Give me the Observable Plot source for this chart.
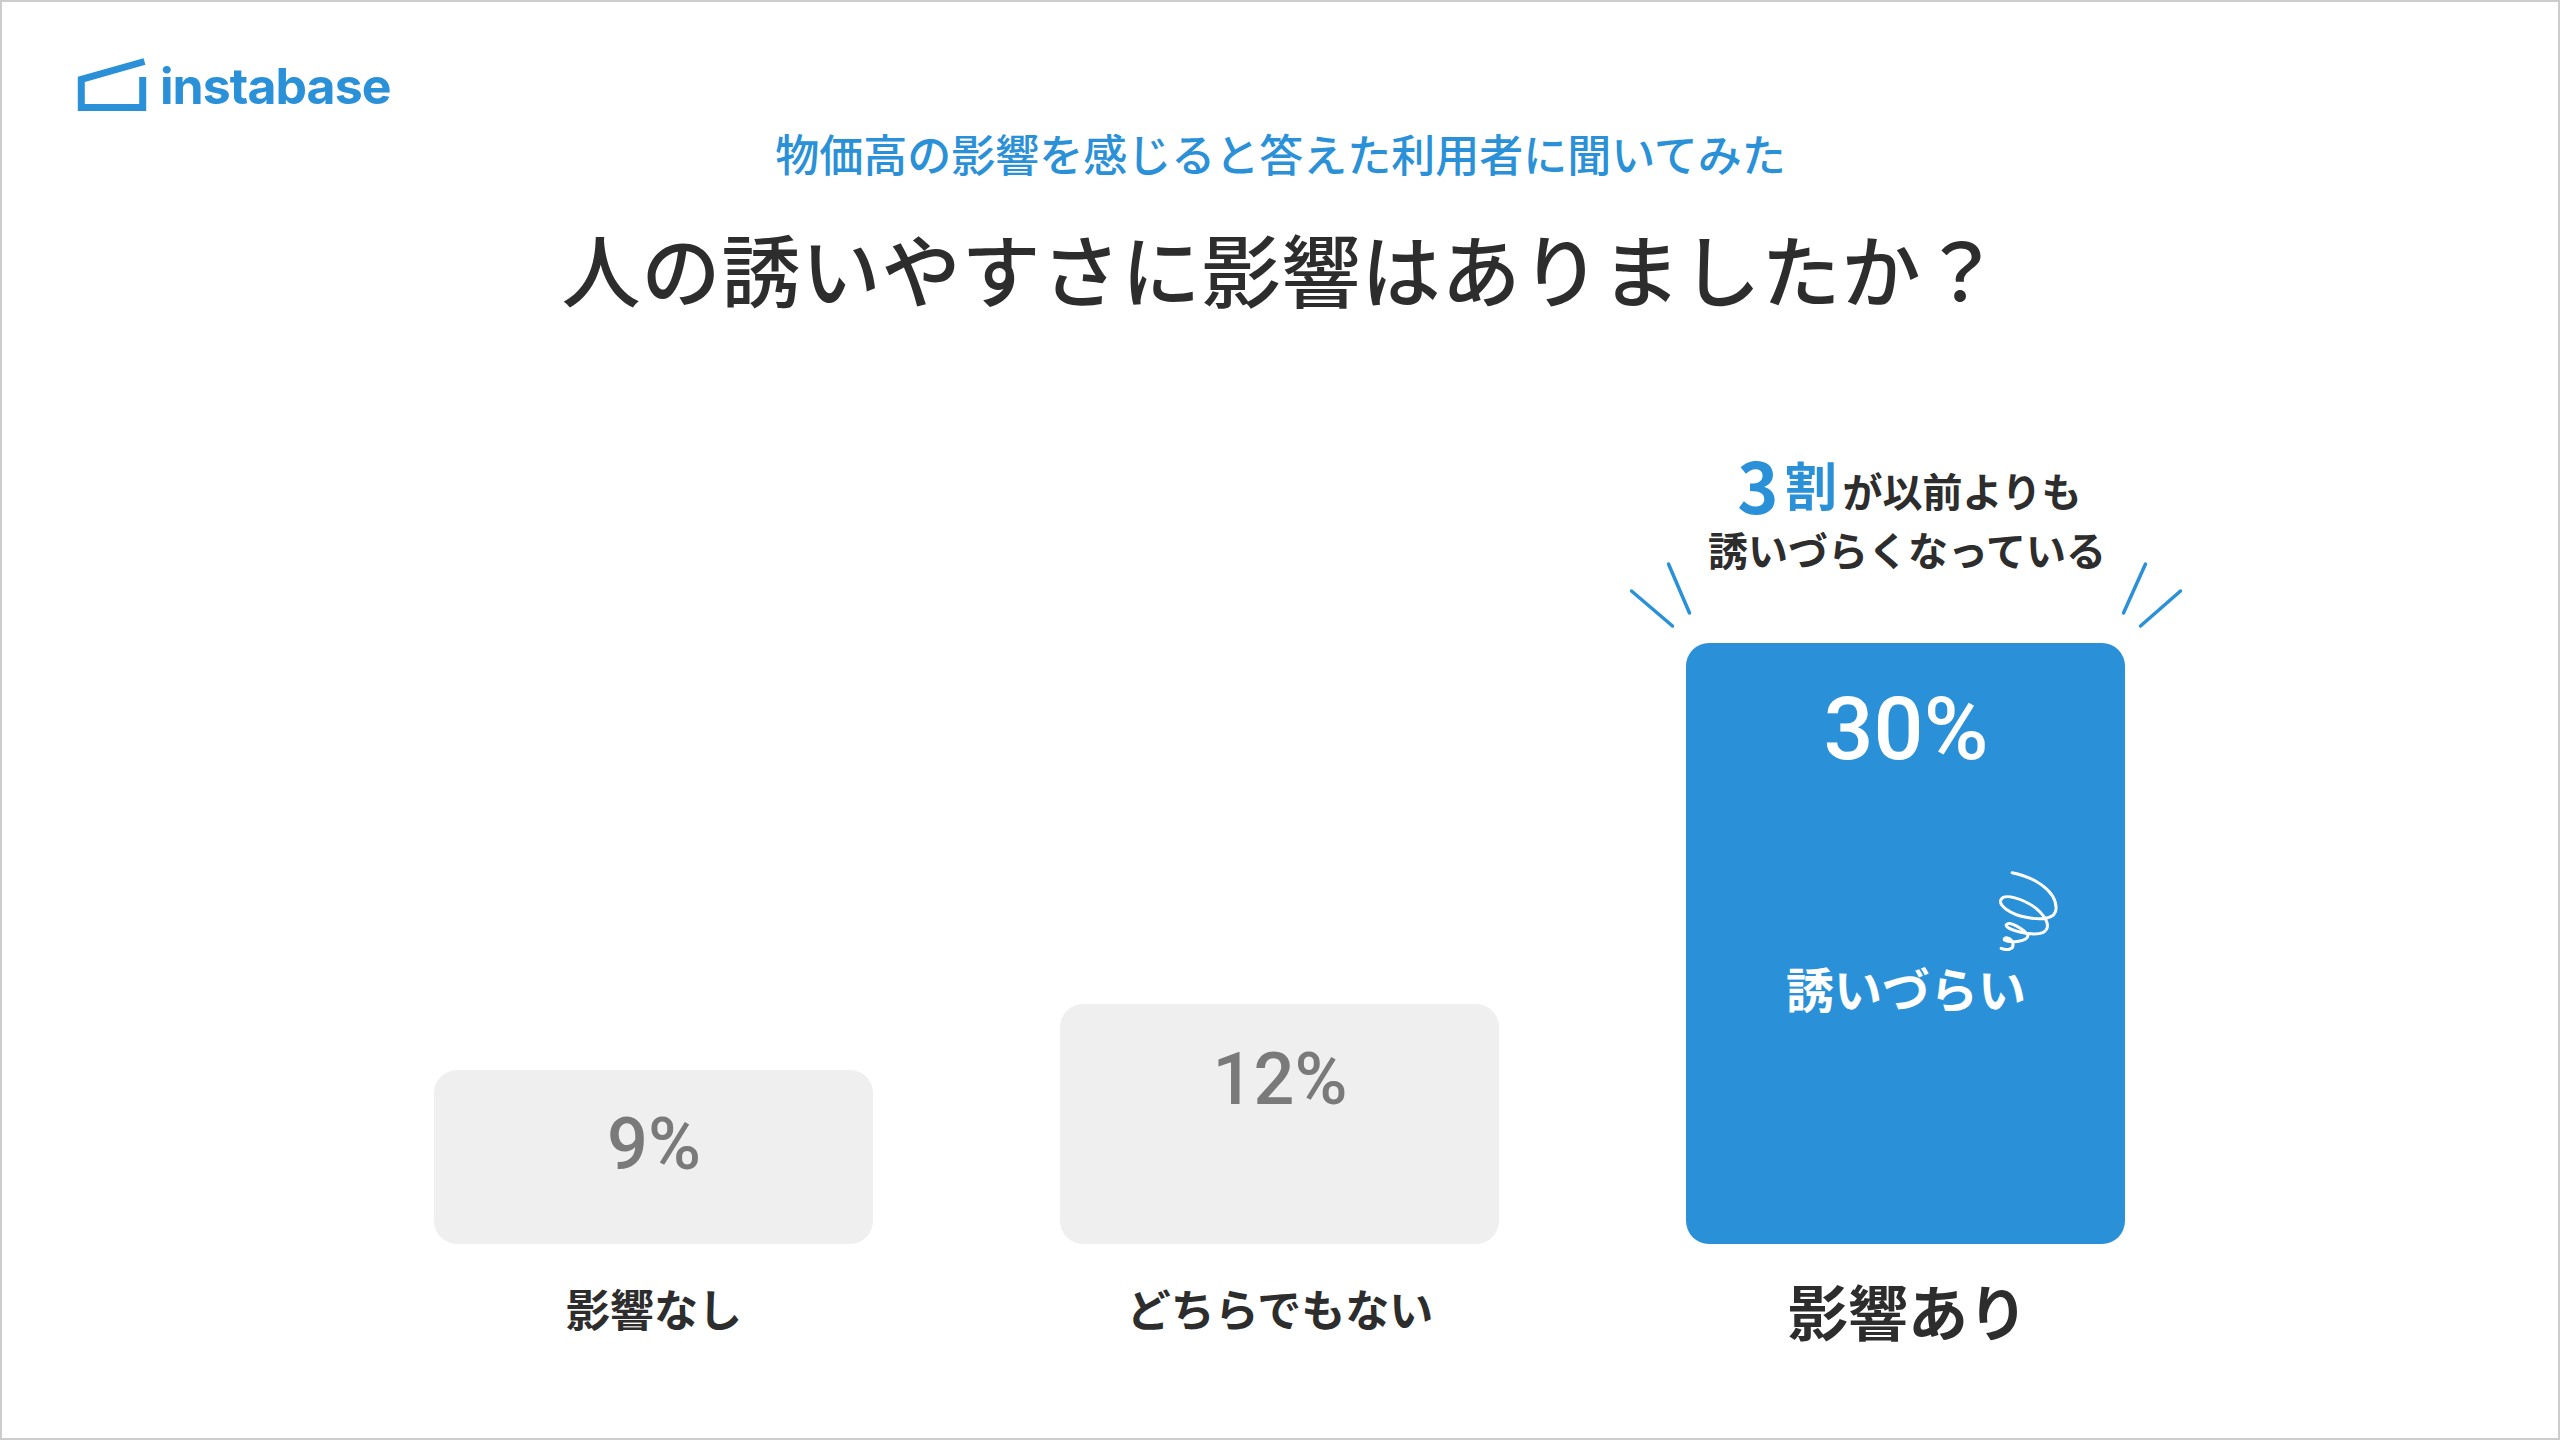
<!DOCTYPE html>
<html lang="ja">
<head>
<meta charset="utf-8">
<script src="https://cdn.jsdelivr.net/npm/d3@7"></script>
<script src="https://cdn.jsdelivr.net/npm/@observablehq/plot@0.6"></script>
<style>
  html, body { margin: 0; padding: 0; background: #fff; }
  #page { position: relative; width: 2560px; height: 1440px; overflow: hidden; background: #fff;
          font-family: "Noto Sans CJK JP", sans-serif; }
  #page svg { display: block; }
  #border { position: absolute; inset: 0; border: 2px solid #cccccc; box-sizing: border-box; pointer-events: none; }
  #header { position: relative; height: 340px; }
  #logo { position: absolute; left: 0; top: 0; }
  #subtitle { position: absolute; left: 0; width: 100%; top: 120px; text-align: center; font-size: 44px; line-height: 66px;
              font-weight: 500; color: #2a91d8; margin: 0; padding-left: 1px; box-sizing: border-box; }
  #title { position: absolute; left: 0; width: 100%; top: 208px; text-align: center; font-size: 79px; line-height: 120px;
           font-weight: 500; color: #2d2d2d; margin: 0; letter-spacing: 1px; padding-left: 3px; box-sizing: border-box; }
</style>
</head>
<body>
<div id="page">
  <div id="header">
    <svg id="logo" width="420" height="130">
      <path d="M144.5,61.5 L81.3,79.5 V107.5 H142.7 V77" fill="none" stroke="#2a91d8" stroke-width="7"/>
      <text x="160" y="104" font-family="Inter" font-weight="700" font-size="50" letter-spacing="-0.95" fill="#2a91d8">instabase</text>
    </svg>
    <p id="subtitle">物価高の影響を感じると答えた利用者に聞いてみた</p>
    <h1 id="title">人の誘いやすさに影響はありましたか？</h1>
  </div>
  <div id="chart"></div>
  <div id="border"></div>
</div>
<script>
const categories = ["影響なし", "どちらでもない", "影響あり"];
const percents = [9, 12, 30];
const percentLabels = ["9%", "12%", "30%"];
const highlighted = "影響あり";
const calloutFigure = "3";
const calloutUnit = "割";
const calloutRest = "が以前よりも";
const calloutSecondLine = "誘いづらくなっている";
const barNote = "誘いづらい";

const blue = "#2a91d8", grey = "#efefef", ink = "#2d2d2d", mutedInk = "#7a7a7a";
const font = '"Noto Sans CJK JP", sans-serif';
const table = categories.map((category, i) => ({category, percent: percents[i], label: percentLabels[i]}));
const isTop = d => d.category === highlighted;
const topRow = table.filter(isTop);
const otherRows = table.filter(d => !isTop(d));

// The reference draws its bars slightly off a strict proportion (the 9% bar is a little short).
const drawnHeight = d3.scaleLinear([0, 9, 12, 30], [0, 8.69, 11.98, 30]);

// Short decorative pieces, placed relative to the highlighted bar.
function decorations(index, {x, y}) {
  const g = d3.create("svg:g").attr("fill", "none").attr("stroke-linecap", "round");
  const cx = x(highlighted) + x.bandwidth() / 2;
  const topY = y(30);
  g.append("g").attr("transform", `translate(${cx},${topY})`)
    .attr("stroke", blue).attr("stroke-width", 3.5)
    .selectAll("path")
    .data(["M-274,-52L-233,-17", "M-237,-79L-216,-30", "M240,-79L218,-30", "M275,-52L235,-17"])
    .join("path").attr("d", d => d);
  g.append("path")
    .attr("transform", `translate(${cx - 166},${topY + 197}) scale(0.3333)`)
    .attr("stroke", "#fff").attr("stroke-width", 9)
    .attr("d", "M818,98 C880,110 950,150 950,205 C950,240 900,240 860,232 C810,222 775,195 785,178 C795,160 850,175 890,205 C925,235 935,265 910,278 C880,290 800,270 800,255 C805,240 850,265 865,285 C870,305 810,310 795,300 C790,290 815,290 820,310 C825,330 800,332 785,325");
  return g.node();
}

const plot = Plot.plot({
  width: 2560,
  height: 1100,
  margin: 0,
  style: {background: "transparent", fontFamily: font},
  x: {domain: categories, range: [433, 2127], paddingInner: 0.298, paddingOuter: 0, axis: null},
  y: {domain: [0, 30], range: [904, 303], transform: drawnHeight, axis: null},
  marks: [
    Plot.barY(table, {x: "category", y: "percent", rx: 23, ry: 23, fill: d => isTop(d) ? blue : grey}),
    Plot.text(otherRows, {x: "category", y: "percent", text: "label", dy: 76, fontSize: 72, fontWeight: 500, fill: mutedInk, fontFamily: "Roboto, sans-serif"}),
    Plot.text(topRow, {x: "category", y: "percent", text: "label", dy: 87, fontSize: 88, fontWeight: 500, fill: "#fff", fontFamily: "Roboto, sans-serif"}),
    Plot.text(otherRows, {x: "category", y: () => 0, text: "category", dy: 68, fontSize: 44, fontWeight: 700, fill: ink}),
    Plot.text(topRow, {x: "category", y: () => 0, text: "category", dx: 2, dy: 72, fontSize: 60, fontWeight: 700, fill: ink}),
    Plot.text(topRow, {x: "category", y: "percent", text: () => barNote, dy: 349, fontSize: 48, fontWeight: 700, fill: "#fff"}),
    Plot.text(topRow, {x: "category", y: "percent", text: () => calloutFigure, dx: -148, dy: -152, fontSize: 70, fontWeight: 700, fill: blue}),
    Plot.text(topRow, {x: "category", y: "percent", text: () => calloutUnit, dx: -95, dy: -154, fontSize: 52, fontWeight: 700, fill: blue}),
    Plot.text(topRow, {x: "category", y: "percent", text: () => calloutRest, dx: 56, dy: -149, fontSize: 40, fontWeight: 700, fill: ink}),
    Plot.text(topRow, {x: "category", y: "percent", text: () => calloutSecondLine, dx: 1, dy: -90, fontSize: 40, fontWeight: 700, fill: ink}),
    decorations
  ]
});
document.getElementById("chart").append(plot);
</script>
</body>
</html>
